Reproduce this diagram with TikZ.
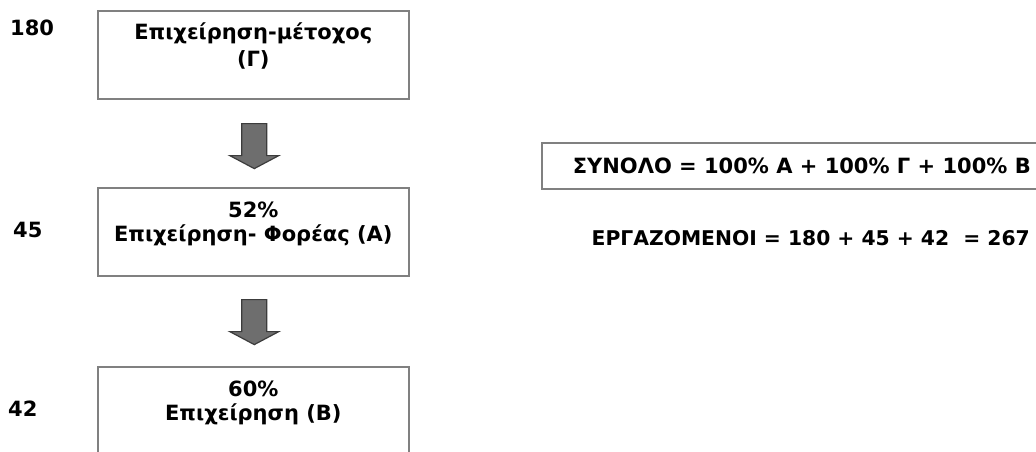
\documentclass[tikz,border=0pt]{standalone}
\usepackage{fontspec}
\setmainfont{DejaVu Sans}
\usetikzlibrary{positioning,calc}
\definecolor{boxgray}{HTML}{808080}
\definecolor{arrowfill}{HTML}{6E6E6E}
\definecolor{arrowedge}{HTML}{3C3C3C}

\begin{document}
\begin{tikzpicture}[x=1pt, y=-1pt, font=\bfseries\fontsize{21}{24}\selectfont,
	firm/.style={draw=boxgray, line width=1.6pt, minimum width=311pt, minimum height=88pt, inner sep=0pt},
	firmtext/.style={anchor=north, align=center, inner sep=0pt},
	count/.style={anchor=base west, inner sep=0pt},
	flow/.style={draw=arrowedge, fill=arrowfill, line width=1.2pt, line join=miter},
	pics/flowdown/.style={code={\draw[flow] (-12.5,0) -- (12.5,0) -- (12.5,32) -- (24.5,32) -- (0,45) -- (-24.5,32) -- (-12.5,32) -- cycle;}}]
	\useasboundingbox (0,0) rectangle (1036,452);
	% Κουτιά επιχειρήσεων
	\node[firm, anchor=north west] (gamma) at (97,10) {};
	\node[firm, anchor=north west] (alpha) at (97,187) {};
	\node[firm, anchor=north west] (beta) at (97,366) {};
	\node[firmtext] (gammatxt) at ($(gamma.north)+(0,13)$) {Επιχείρηση-μέτοχος\\[3pt](Γ)};
	\node[firmtext] (alphatxt) at ($(alpha.north)+(0,14.5)$) {52\%\\Επιχείρηση- Φορέας (Α)};
	\node[firmtext] (betatxt) at ($(beta.north)+(0,14.5)$) {60\%\\Επιχείρηση (Β)};
	% Εργαζόμενοι ανά επιχείρηση
	\node[count] (n180) at (10,36) {180};
	\node[count] (n45) at (13,237) {45};
	\node[count] (n42) at (8,416) {42};
	% Βέλη ανάμεσα στα κουτιά
	\pic at ($(gamma.south)+(1,24)$) {flowdown};
	\pic at ($(alpha.south)+(1,23)$) {flowdown};
	% Σύνολα
	\node[draw=boxgray, line width=1.6pt, anchor=west, minimum height=46pt, inner xsep=31pt, inner ysep=0pt] (total) at (541,166) {ΣΥΝΟΛΟ = 100\% Α + 100\% Γ + 100\% Β};
	\node[anchor=base east, inner sep=0pt, font=\bfseries\fontsize{20.3}{24}\selectfont] (staff) at (1030,245) {ΕΡΓΑΖΟΜΕΝΟΙ = 180 + 45 + 42 \ = 267};
\end{tikzpicture}
\end{document}
